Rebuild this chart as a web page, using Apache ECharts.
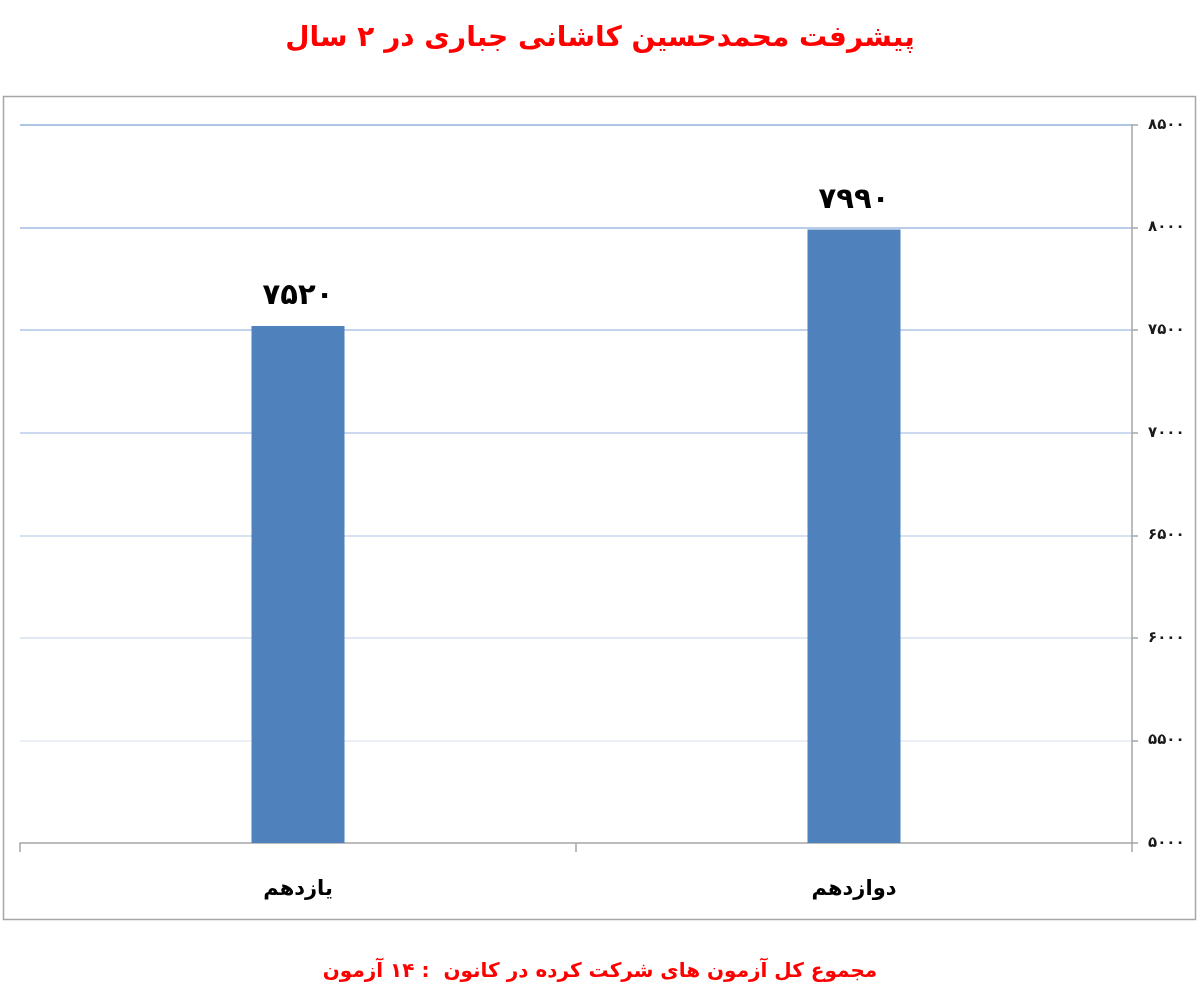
<!DOCTYPE html>
<html>
<head>
<meta charset="utf-8">
<script src="https://cdn.jsdelivr.net/npm/echarts@6/dist/echarts.min.js"></script>
<style>
    html, body { margin: 0; padding: 0; background: #fff; }
    #chart { width: 1200px; height: 1005px; }
</style>
</head>
<body>
<div id="chart"></div>
<script>
// داده‌ها
var categories = ['یازدهم', 'دوازدهم'];
var scores = [7520, 7990];
var yTicks = [5000, 5500, 6000, 6500, 7000, 7500, 8000, 8500];
var titleText = 'پیشرفت محمدحسین کاشانی جباری در ۲ سال';
var footerText = 'مجموع کل آزمون های شرکت کرده در کانون  : ۱۴ آزمون';

function toPersian(n) {
    return String(n).replace(/[0-9]/g, function (d) {
        return '۰۱۲۳۴۵۶۷۸۹'[+d];
    });
}

var font = '"DejaVu Sans", "Noto Sans", sans-serif';
var myChart = echarts.init(document.getElementById('chart'));

var option = {
    backgroundColor: '#fff',
    animation: false,
    title: {
        text: titleText,
        left: 'center',
        top: 20,
        textStyle: {
            color: '#ff0000',
            fontSize: 28,
            fontWeight: 'bold',
            fontFamily: font
        }
    },
    graphic: [
        {
            type: 'rect',
            shape: { x: 3.5, y: 96.5, width: 1192, height: 823 },
            style: { fill: 'none', stroke: '#a6a6a6', lineWidth: 1.5 },
            silent: true,
            z: -1
        },
        {
            type: 'text',
            left: 'center',
            top: 962,
            style: {
                text: footerText,
                fill: '#ff0000',
                fontSize: 20,
                fontWeight: 'bold',
                fontFamily: font
            }
        }
    ],
    grid: {
        left: 20,
        right: 68,
        top: 125,
        bottom: 162
    },
    xAxis: {
        type: 'category',
        data: categories,
        axisLine: { lineStyle: { color: '#a6a6a6', width: 1.5 } },
        axisTick: { show: true, length: 9, lineStyle: { color: '#a6a6a6', width: 1.5 } },
        axisLabel: {
            margin: 36,
            color: '#000',
            fontSize: 21,
            fontWeight: 'bold',
            fontFamily: font
        }
    },
    yAxis: {
        type: 'value',
        position: 'right',
        min: yTicks[0],
        max: yTicks[yTicks.length - 1],
        interval: 500,
        axisLine: { show: true, lineStyle: { color: '#a6a6a6', width: 1.5 } },
        axisTick: { show: true, length: 6, lineStyle: { color: '#a6a6a6', width: 1.5 } },
        axisLabel: {
            margin: 16,
            color: '#1a1a1a',
            fontSize: 15,
            fontWeight: 'bold',
            fontFamily: font,
            formatter: function (v) { return toPersian(v); }
        },
        splitLine: {
            lineStyle: {
                width: 1.5,
                color: ['#ffffff', '#e3e9f5', '#d6e0f1', '#c9d7ee', '#bccdea', '#afc4e7', '#a2bbe3', '#95b2e0']
            }
        }
    },
    series: [
        {
            name: 'تراز',
            type: 'bar',
            barWidth: 93,
            data: scores,
            itemStyle: { color: '#4f81bd' },
            label: {
                show: true,
                position: 'top',
                distance: 15,
                color: '#000',
                fontSize: 29,
                fontWeight: 'bold',
                fontFamily: font,
                formatter: function (p) { return toPersian(p.value); }
            }
        }
    ]
};

myChart.setOption(option);
</script>
</body>
</html>
